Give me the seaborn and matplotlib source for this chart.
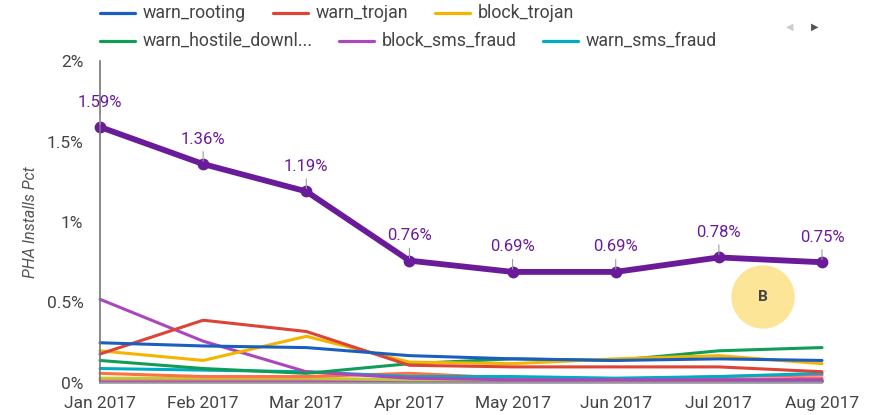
import matplotlib
matplotlib.use("Agg")
import matplotlib.pyplot as plt
import seaborn as sns
import pandas as pd
from matplotlib.lines import Line2D
from matplotlib.patches import Ellipse

months = ["Jan 2017", "Feb 2017", "Mar 2017", "Apr 2017", "May 2017", "Jun 2017", "Jul 2017", "Aug 2017"]
total = [1.59, 1.36, 1.19, 0.76, 0.69, 0.69, 0.78, 0.75]

warn_rooting = [0.25, 0.23, 0.22, 0.17, 0.15, 0.14, 0.15, 0.14]
warn_trojan = [0.18, 0.39, 0.32, 0.11, 0.10, 0.10, 0.10, 0.07]
block_trojan = [0.20, 0.14, 0.29, 0.13, 0.12, 0.15, 0.17, 0.12]
warn_hostile_downl = [0.14, 0.09, 0.06, 0.12, 0.15, 0.14, 0.20, 0.22]
block_sms_fraud = [0.52, 0.26, 0.07, 0.03, 0.02, 0.02, 0.02, 0.02]
warn_sms_fraud = [0.09, 0.08, 0.07, 0.04, 0.04, 0.03, 0.04, 0.06]
other_orange = [0.06, 0.04, 0.04, 0.06, 0.03, 0.02, 0.02, 0.03]
other_pink = [0.02, 0.02, 0.02, 0.02, 0.02, 0.02, 0.04, 0.05]
other_indigo = [0.01, 0.01, 0.01, 0.01, 0.01, 0.01, 0.01, 0.01]
other_olive = [0.03, 0.03, 0.03, 0.02, 0.02, 0.02, 0.02, 0.02]

legend_names = ["warn_rooting", "warn_trojan", "block_trojan",
                "warn_hostile_downl...", "block_sms_fraud", "warn_sms_fraud"]

series = {
    "warn_rooting": warn_rooting,
    "warn_trojan": warn_trojan,
    "block_trojan": block_trojan,
    "warn_hostile_downl...": warn_hostile_downl,
    "block_sms_fraud": block_sms_fraud,
    "warn_sms_fraud": warn_sms_fraud,
    "other_orange": other_orange,
    "other_olive": other_olive,
    "other_pink": other_pink,
    "other_indigo": other_indigo,
}
palette = {
    "warn_rooting": "#1a5fc0",
    "warn_trojan": "#db4437",
    "block_trojan": "#f4b400",
    "warn_hostile_downl...": "#0f9d58",
    "block_sms_fraud": "#ab47bc",
    "warn_sms_fraud": "#00acc1",
    "other_orange": "#ff7043",
    "other_olive": "#c0ca33",
    "other_pink": "#f06292",
    "other_indigo": "#5c6bc0",
}

rows = []
for name, vals in series.items():
    for i, v in enumerate(vals):
        rows.append({"x": i, "month": months[i], "value": v, "series": name})
df = pd.DataFrame(rows)
df_total = pd.DataFrame({"x": range(len(months)), "value": total})

sns.set_theme(style="white")
plt.rcParams["font.family"] = ["Roboto", "DejaVu Sans"]

fig = plt.figure(figsize=(8.73, 4.15), dpi=100)
ax = fig.add_axes([100 / 873, 1 - 383 / 415, (822 - 100) / 873, (383 - 61) / 415])

sns.lineplot(data=df, x="x", y="value", hue="series", palette=palette,
             hue_order=list(series.keys())[::-1], linewidth=2.2, ax=ax, legend=False)
sns.lineplot(data=df_total, x="x", y="value", color="#6a1b9a", linewidth=4.2,
             marker="o", markersize=8.5, markeredgewidth=0, ax=ax, legend=False)
for l in ax.lines:
    l.set_clip_on(False)

for i, v in enumerate(total):
    ax.annotate("", xy=(i, v), xytext=(0, 11), textcoords="offset points",
                arrowprops=dict(arrowstyle="-", color="#9e9e9e", lw=0.8))
    ax.annotate(f"{v:.2f}%", xy=(i, v), xytext=(0, 18), textcoords="offset points",
                ha="center", va="center", color="#6a1b9a", fontsize=12)

ax.set_xlim(0, len(months) - 1)
ax.set_ylim(0, 2)
ax.set_xticks(range(len(months)))
ax.set_xticklabels(months)
ax.set_yticks([0, 0.5, 1, 1.5, 2])
ax.set_yticklabels(["0%", "0.5%", "1%", "1.5%", "2%"])
ax.tick_params(axis="both", labelsize=12.5, colors="#444444", length=0)
ax.tick_params(axis="x", pad=9)
ax.tick_params(axis="y", pad=12)
ax.set_xlabel("")
ax.set_ylabel("PHA Installs Pct", fontsize=11.5, fontstyle="italic", color="#555555", labelpad=6)
for s in ["top", "right"]:
    ax.spines[s].set_visible(False)
ax.spines["left"].set_color("#757575")
ax.spines["bottom"].set_color("#9e9e9e")
ax.spines["left"].set_linewidth(1.2)
ax.grid(False)

# legend (flow layout)
leg_pos = [(100, 13), (273, 13), (435, 13), (100, 41), (339, 41), (543, 41)]
for name, (px, py) in zip(legend_names, leg_pos):
    fy = 1 - py / 415
    fig.add_artist(Line2D([px / 873, (px + 35) / 873], [fy, fy], color=palette[name], lw=2.3))
    fig.text((px + 43) / 873, fy, name, fontsize=12.8, color="#444444", va="center", ha="left")
fig.text(790 / 873, 1 - 27 / 415, "◀", fontsize=7, color="#cccccc", ha="center", va="center",
         family=["DejaVu Sans"])
fig.text(815 / 873, 1 - 27 / 415, "▶", fontsize=7, color="#555555", ha="center", va="center",
         family=["DejaVu Sans"])

# "B" badge overlay
fig.add_artist(Ellipse((763 / 873, 1 - 297 / 415), 62 / 873, 62 / 415, color="#fde597", zorder=5))
fig.text(763 / 873, 1 - 297 / 415, "B", fontsize=11, fontweight="bold", color="#444444",
         ha="center", va="center", zorder=6)

fig.savefig("out.png", dpi=100)
